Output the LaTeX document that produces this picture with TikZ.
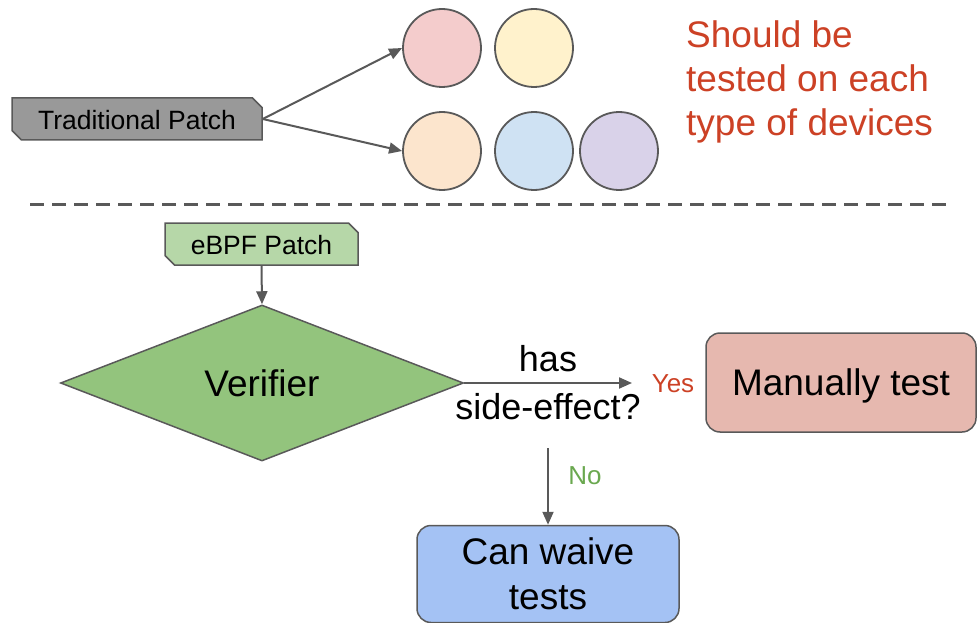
\documentclass[tikz,border=0pt]{standalone}
\usepackage{fontspec}
\setmainfont{Liberation Sans}
\usetikzlibrary{shapes.geometric,shapes.misc,arrows.meta}
\definecolor{linegray}{HTML}{595959}
\definecolor{patchgray}{HTML}{999999}
\definecolor{patchgreen}{HTML}{B6D7A8}
\definecolor{diagreen}{HTML}{93C47D}
\definecolor{redbox}{HTML}{E6B8AF}
\definecolor{bluebox}{HTML}{A4C2F4}
\definecolor{devA}{HTML}{F4CCCC}
\definecolor{devB}{HTML}{FFF2CC}
\definecolor{devC}{HTML}{FCE5CD}
\definecolor{devD}{HTML}{CFE2F3}
\definecolor{devE}{HTML}{D9D2E9}
\definecolor{redtxt}{HTML}{CC4125}
\definecolor{greentxt}{HTML}{6AA84F}
\begin{document}
\begin{tikzpicture}[x=1pt,y=-1pt,
  patch/.style={chamfered rectangle, chamfered rectangle corners={north east,south west},
    chamfered rectangle xsep=6pt, draw=linegray, line width=1.5pt, inner sep=0pt,
    font=\fontsize{26.5}{30}\selectfont, text height=21pt},
  bigtext/.style={font=\fontsize{37}{45}\selectfont},
  outcome/.style={rectangle, rounded corners=14pt, draw=linegray, line width=1.5pt,
    inner sep=0pt, align=center, bigtext},
  dev/.style={circle, draw=linegray, line width=1.8pt, minimum size=78pt, inner sep=0pt},
  conn/.style={draw=linegray, line width=2pt, -{Triangle[length=13pt,width=11pt]}},
  answer/.style={inner sep=0pt, font=\fontsize{26}{30}\selectfont}]
\useasboundingbox (0,0) rectangle (977,623);

% traditional path: one patch per device type
\node[patch, fill=patchgray, minimum width=250pt, minimum height=42pt] (tp) at (137,119) {Traditional Patch};
\node[dev, fill=devA] (d1) at (442,48) {};
\node[dev, fill=devB] (d2) at (534,48) {};
\node[dev, fill=devC] (d3) at (442,151) {};
\node[dev, fill=devD] (d4) at (534,151) {};
\node[dev, fill=devE] (d5) at (619,151) {};
\draw[conn] (tp.east) -- (d1.west);
\draw[conn] (tp.east) -- (d3.west);
\node[text=redtxt, font=\fontsize{37}{44}\selectfont, align=left, anchor=west, inner sep=0pt]
  (note) at (686,82) {Should be\\tested on each\\type of devices};

% separator
\draw[linegray, line width=3pt, dash pattern=on 14pt off 8pt] (30,204) -- (948,204);

% eBPF path
\node[patch, fill=patchgreen, minimum width=193pt, minimum height=42pt] (ebpf) at (261.5,244) {eBPF Patch};
\node[diamond, draw=linegray, fill=diagreen, line width=1.5pt, inner sep=0pt,
  minimum width=403pt, minimum height=156pt, bigtext] (ver) at (262,383) {Verifier};
\draw[conn] (ebpf.south) -- (ver.north);

\coordinate (yesend) at (632,383);
\draw[conn] (ver.east) -- (yesend);
\node[inner sep=0pt, align=center, font=\fontsize{36}{48}\selectfont] (q) at (548,383) {has\\side-effect?};
\node[answer, text=redtxt] (yes) at (673,384) {Yes};
\node[outcome, fill=redbox, minimum width=270pt, minimum height=99pt, text height=33pt] (man) at (841,382.5) {Manually test};

\coordinate (nostart) at (548,448);
\node[outcome, fill=bluebox, minimum width=262pt, minimum height=97pt] (waive) at (548,574) {Can waive\\tests};
\draw[conn] (nostart) -- (waive.north);
\node[answer, text=greentxt] (no) at (585,476) {No};
\end{tikzpicture}
\end{document}
